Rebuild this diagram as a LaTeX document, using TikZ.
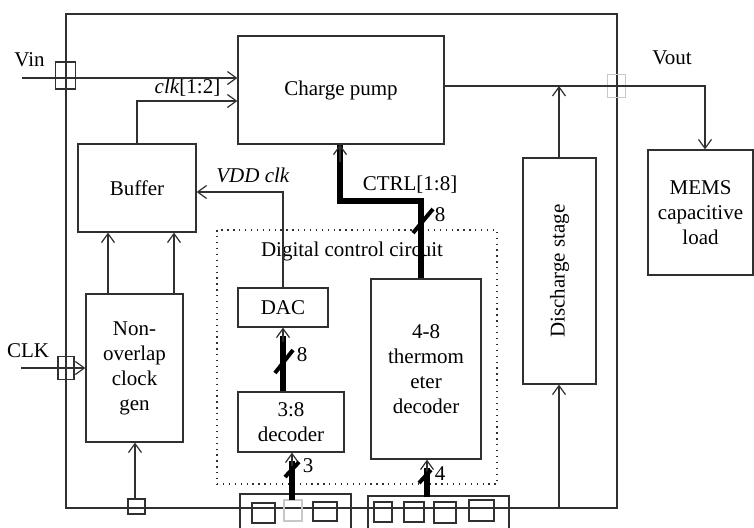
\documentclass[tikz,border=0pt]{standalone}
\usepackage{fontspec}
\setmainfont{Liberation Serif}
\usetikzlibrary{arrows.meta,calc}
\definecolor{lc}{HTML}{303030}
\definecolor{lg}{HTML}{C8C8C8}
\newcommand\myfs{\fontsize{21}{25}\selectfont}
\begin{document}
\begin{tikzpicture}[x=1pt,y=-1pt,
  blk/.style={draw=lc, line width=1.2pt, inner sep=2pt, align=center, font=\myfs},
  arr/.style={draw=lc, line width=1.2pt, -{Straight Barb[length=9pt,width=13pt,line width=1.2pt]}},
  bus/.style={draw=black, line width=5.5pt},
  busslash/.style={draw=black, line width=4pt},
  pad/.style={draw=lc, line width=1.2pt, inner sep=0pt},
  lpad/.style={draw=lg, line width=1.2pt, inner sep=0pt},
  lbl/.style={font=\myfs, inner sep=0pt}]
\useasboundingbox (0,0) rectangle (754,527);

% chip frame
\node[pad, minimum width=551pt, minimum height=494pt] (chip) at (341.5,261) {};
% dotted digital control box
\node[draw=lc, line width=1.3pt, dash pattern=on 1.3pt off 4.6pt, inner sep=0pt,
      minimum width=280pt, minimum height=254pt] (dcc) at (357,357) {};
\node[lbl] (dcclbl) at (352,251) {Digital control circuit};

% blocks
\node[blk, minimum width=206pt, minimum height=108pt] (cp) at (341,90) {Charge pump};
\node[blk, minimum width=118pt, minimum height=88pt] (buf) at (137,188) {Buffer};
\node[blk, minimum width=97pt, minimum height=148pt] (nocg) at (134.5,368) {Non-\\overlap\\clock\\gen};
\node[blk, minimum width=90pt, minimum height=39pt] (dac) at (283,307.5) {DAC};
\node[blk, minimum width=106pt, minimum height=60pt] (dec) at (291,422) {3:8\\decoder};
\node[blk, minimum width=110pt, minimum height=180pt] (therm) at (426,369) {4-8\\thermom\\eter\\decoder};
\node[blk, minimum width=73pt, minimum height=226pt] (dis) at (559.5,271) {};
\node[lbl, rotate=90] (distxt) at (dis.center) {Discharge stage};
\node[blk, minimum width=105pt, minimum height=125pt] (mems) at (700.5,212.5) {MEMS\\capacitive\\load};

% pads
\node[pad, minimum width=20pt, minimum height=27pt] (vinpad) at (65.5,75.5) {};
\node[pad, minimum width=16pt, minimum height=23pt] (clkpad) at (66,368) {};
\node[lpad, minimum width=18pt, minimum height=23pt] (voutpad) at (616.5,86) {};
\node[pad, minimum width=17pt, minimum height=15pt] (p0) at (136.5,506.5) {};

% bottom pad groups
\draw[lc, line width=1.2pt] (240,540) -- (240,494) -- (351,494) -- (351,540);
\draw[lc, line width=1.2pt] (368,540) -- (368,496) -- (509,496) -- (509,540);
\draw[lc, line width=1.2pt] (252,503) rectangle (275,523);
\draw[lg, line width=1.2pt] (284,500) rectangle (302,521);
\draw[lc, line width=1.2pt] (313,502) rectangle (337,521);
\draw[lc, line width=1.2pt] (374,502) rectangle (392,522);
\draw[lc, line width=1.2pt] (404,502) rectangle (424,522);
\draw[lc, line width=1.2pt] (434,502) rectangle (456,523);
\draw[lc, line width=1.2pt] (469,500) rectangle (494,521);

% labels
\node[lbl] (vinlbl) at (29.5,60) {Vin};
\node[lbl] (clklbl) at (28,351) {CLK};
\node[lbl] (voutlbl) at (672,58) {Vout};
\node[lbl] (clk12) at (187.5,88) {\textit{clk}[1:2]};
\node[lbl] (vddclk) at (253,175) {\textit{VDD clk}};
\node[lbl] (ctrllbl) at (410,185) {CTRL[1:8]};
\node[lbl] (n8a) at (302,355) {8};
\node[lbl] (n8b) at (440,215) {8};
\node[lbl] (n3) at (308,466) {3};
\node[lbl] (n4) at (440,474) {4};

% connectors
\coordinate (vinL) at (22,78);
\coordinate (clkL) at (21,368);
\draw[arr] (vinL) -- (cp.west |- vinL);
\draw[arr] (buf.north) -- (137,101) -- (cp.west |- 0,101);
\draw[arr] (dac.north) -- (283,192) -- (buf.east |- 0,192);
\draw[arr] (108,0 |- nocg.north) -- (108,0 |- buf.south);
\draw[arr] (174,0 |- nocg.north) -- (174,0 |- buf.south);
\draw[arr] (clkL) -- (nocg.west |- clkL);
\draw[arr] (p0.north -| 135,0) -- (135,0 |- nocg.south);

% Vout and discharge
\draw[arr] (cp.east |- 0,86) -- (705,86) -- (705,0 |- mems.north);
\coordinate (disbot) at (559,508);
\draw[arr] (disbot) -- (559,0 |- dis.south);
\draw[arr] (559,0 |- dis.north) -- (559,86);

% buses
\draw[bus] (421,0 |- therm.north) -- (421,201) -- (340,201) -- (340,0 |- cp.south);
\draw[arr] (340,162) -- (340,0 |- cp.south);
\draw[busslash] (413,233) -- (433,209);

\draw[bus] (283,0 |- dec.north) -- (283,336);
\draw[arr] (283,342) -- (dac.south);
\draw[busslash] (275,373) -- (293,350);

\draw[bus] (292,500) -- (292,461);
\draw[arr] (292,466) -- (292,0 |- dec.south);
\draw[busslash] (285,477) -- (299,462);

\draw[bus] (427,497) -- (427,468);
\draw[arr] (427,473) -- (427,0 |- therm.south);
\draw[busslash] (419,483) -- (431,470);
\end{tikzpicture}
\end{document}
